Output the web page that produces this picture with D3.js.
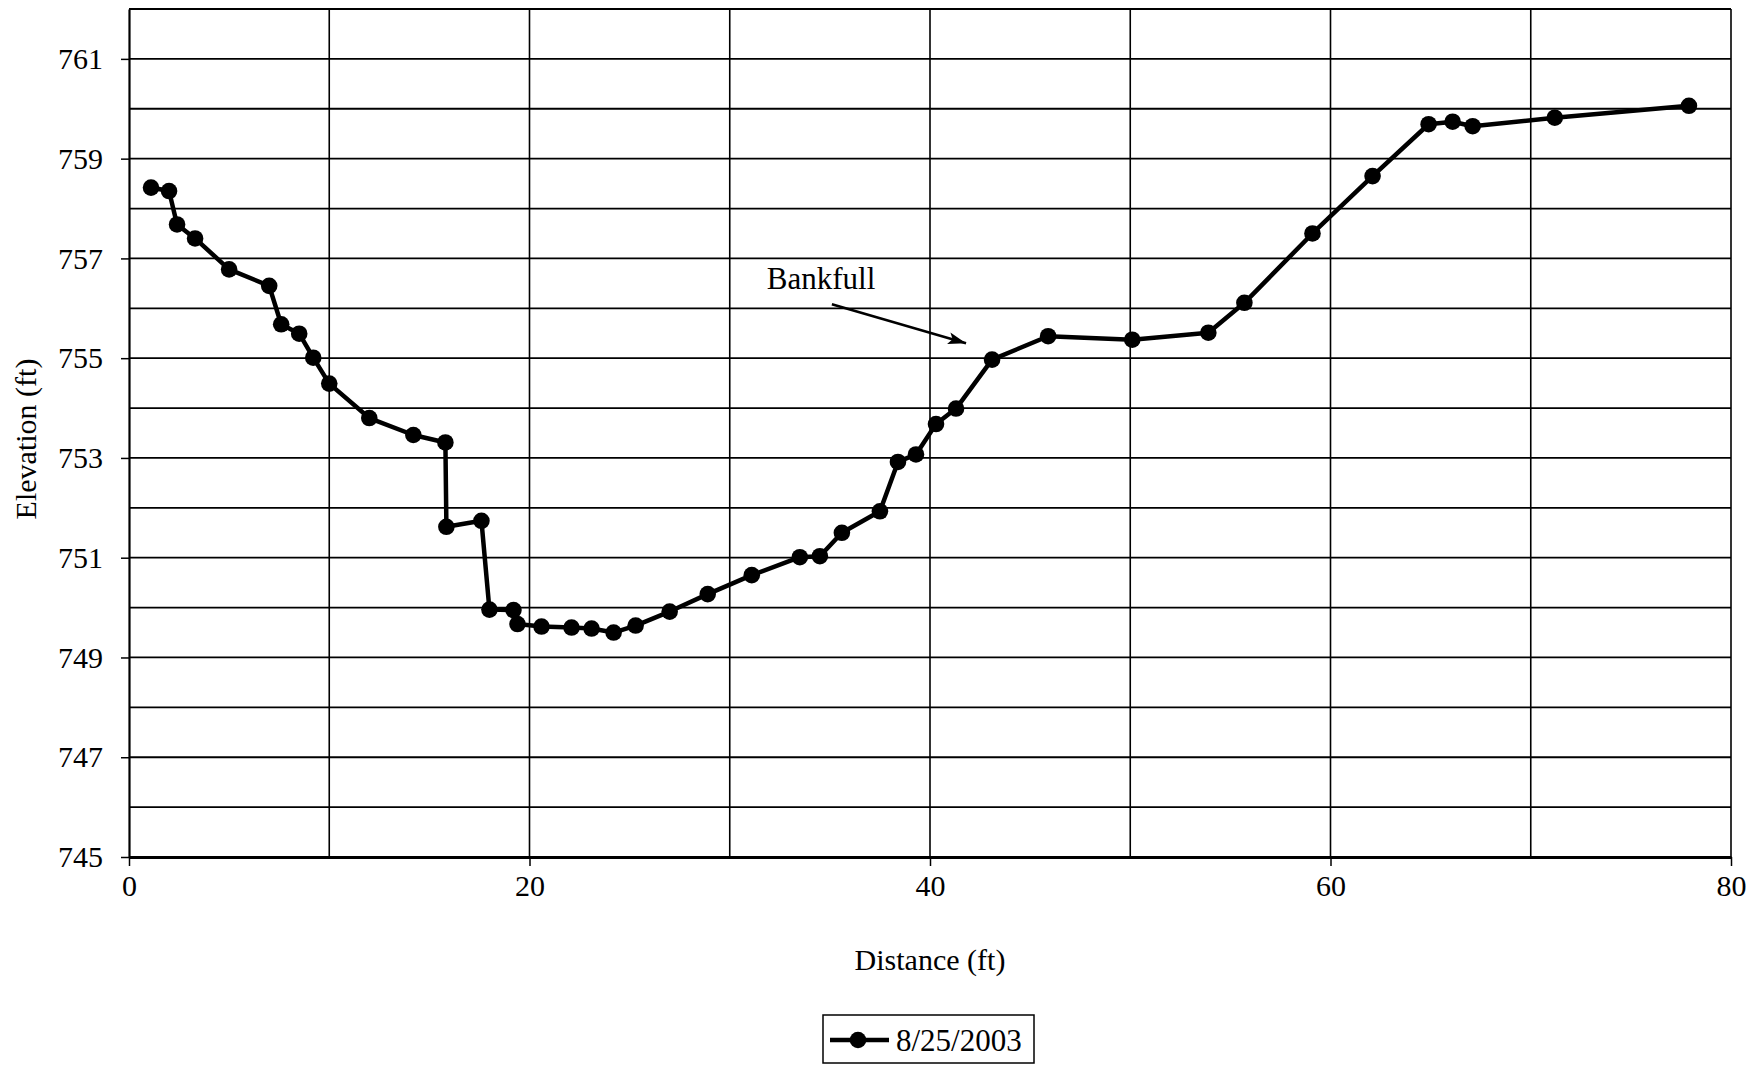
<!DOCTYPE html>
<html>
<head>
<meta charset="utf-8">
<script src="https://cdn.jsdelivr.net/npm/d3@7"></script>
<style>
  html, body { margin: 0; padding: 0; background: #fff; }
  svg { display: block; }
  text { font-family: "Liberation Serif", "Times New Roman", serif; fill: #000; }
</style>
</head>
<body>
<svg id="chart" width="1752" height="1070"></svg>
<script>
// ---- data ----
const seriesName = "8/25/2003";
const distance = [1.1, 2.0, 2.4, 3.3, 5.0, 7.0, 7.6, 8.5, 9.2, 10.0, 12.0, 14.2, 15.8,
  15.85, 17.6, 18.0, 19.2, 19.4, 20.6, 22.1, 23.1, 24.2, 25.3, 27.0, 28.9, 31.1, 33.5,
  34.5, 35.6, 37.5, 38.4, 39.3, 40.3, 41.3, 43.1, 45.9, 50.1, 53.9, 55.7, 59.1, 62.1,
  64.9, 66.1, 67.1, 71.2, 77.9];
const elevation = [758.42, 758.35, 757.68, 757.40, 756.78, 756.45, 755.68, 755.49, 755.01, 754.49, 753.80, 753.46, 753.31,
  751.62, 751.74, 749.96, 749.95, 749.67, 749.62, 749.60, 749.58, 749.50, 749.64, 749.92, 750.27, 750.65, 751.01,
  751.03, 751.50, 751.93, 752.92, 753.07, 753.68, 753.99, 754.97, 755.44, 755.37, 755.51, 756.11, 757.50, 758.65,
  759.69, 759.74, 759.65, 759.82, 760.06];
const xTickLabels = [0, 20, 40, 60, 80];
const xGridValues = [10, 20, 30, 40, 50, 60, 70, 80];
const yTickLabels = [745, 747, 749, 751, 753, 755, 757, 759, 761];
const yGridValues = [746, 747, 748, 749, 750, 751, 752, 753, 754, 755, 756, 757, 758, 759, 760, 761, 762];
const annotationText = "Bankfull";
const annotationTextPos = [31.85, 756.38];
const annotationArrow = [[35.1, 756.08], [41.8, 755.30]];

// ---- layout ----
const svg = d3.select("#chart");
const x = d3.scaleLinear().domain([0, 80]).range([129, 1731]);
const y = d3.scaleLinear().domain([745, 762]).range([857, 9]);
const FS = 30;

// gridlines
svg.append("g").selectAll("line.h").data(yGridValues).join("line")
  .attr("x1", x(0)).attr("x2", x(80))
  .attr("y1", d => y(d)).attr("y2", d => y(d))
  .attr("stroke", "#000").attr("stroke-width", 1.8);
svg.append("g").selectAll("line.v").data(xGridValues).join("line")
  .attr("x1", d => x(d)).attr("x2", d => x(d))
  .attr("y1", y(745)).attr("y2", y(762))
  .attr("stroke", "#000").attr("stroke-width", 1.6);

// axes
const xAxis = d3.axisBottom(x).tickValues(xTickLabels).tickSize(9).tickSizeOuter(0).tickPadding(27).tickFormat(d3.format("d"));
const gx = svg.append("g").attr("transform", `translate(0,${y(745)})`).call(xAxis);
gx.select(".domain").attr("stroke", "#000").attr("stroke-width", 3);
gx.selectAll(".tick line").attr("stroke", "#000").attr("stroke-width", 1.5);
gx.selectAll(".tick text").attr("font-size", FS).attr("font-family", "Liberation Serif").attr("dy", "0.1em");

const yAxis = d3.axisLeft(y).tickValues(yTickLabels).tickSize(8).tickSizeOuter(0).tickPadding(18).tickFormat(d3.format("d"));
const gy = svg.append("g").attr("transform", `translate(${x(0)},0)`).call(yAxis);
gy.select(".domain").attr("stroke", "#000").attr("stroke-width", 2.2);
gy.selectAll(".tick line").attr("stroke", "#000").attr("stroke-width", 1.5);
gy.selectAll(".tick text").attr("font-size", FS).attr("font-family", "Liberation Serif");

// axis titles
svg.append("text")
  .attr("x", x(40)).attr("y", 970)
  .attr("text-anchor", "middle").attr("font-size", FS)
  .text("Distance (ft)");
svg.append("text")
  .attr("transform", `translate(36,${(y(745) + y(762)) / 2 + 6}) rotate(-90)`)
  .attr("text-anchor", "middle").attr("font-size", FS)
  .text("Elevation (ft)");

// series
const pts = distance.map((d, i) => [d, elevation[i]]);
const line = d3.line().x(d => x(d[0])).y(d => y(d[1]));
svg.append("path").datum(pts)
  .attr("d", line).attr("fill", "none")
  .attr("stroke", "#000").attr("stroke-width", 4.5).attr("stroke-linejoin", "round");
svg.append("g").selectAll("circle").data(pts).join("circle")
  .attr("cx", d => x(d[0])).attr("cy", d => y(d[1])).attr("r", 8.3).attr("fill", "#000");

// annotation
svg.append("defs").append("marker")
  .attr("id", "arrow").attr("viewBox", "0 0 18 12").attr("refX", 18).attr("refY", 6)
  .attr("markerWidth", 18).attr("markerHeight", 12).attr("markerUnits", "userSpaceOnUse")
  .attr("orient", "auto")
  .append("path").attr("d", "M0,0 L18,6 L0,12 L4,6 Z").attr("fill", "#000");
svg.append("text")
  .attr("x", x(annotationTextPos[0])).attr("y", y(annotationTextPos[1]))
  .attr("font-size", FS + 1).text(annotationText);
svg.append("line")
  .attr("x1", x(annotationArrow[0][0])).attr("y1", y(annotationArrow[0][1]))
  .attr("x2", x(annotationArrow[1][0])).attr("y2", y(annotationArrow[1][1]))
  .attr("stroke", "#000").attr("stroke-width", 2.5).attr("marker-end", "url(#arrow)");

// legend
const lg = svg.append("g").attr("transform", "translate(823,1015)");
lg.append("rect").attr("width", 211).attr("height", 48)
  .attr("fill", "#fff").attr("stroke", "#000").attr("stroke-width", 1.5);
lg.append("line").attr("x1", 7).attr("x2", 66).attr("y1", 25).attr("y2", 25)
  .attr("stroke", "#000").attr("stroke-width", 4.5);
lg.append("circle").attr("cx", 35).attr("cy", 25).attr("r", 8.3).attr("fill", "#000");
lg.append("text").attr("x", 73).attr("y", 36).attr("font-size", FS + 1).text(seriesName);
</script>
</body>
</html>
